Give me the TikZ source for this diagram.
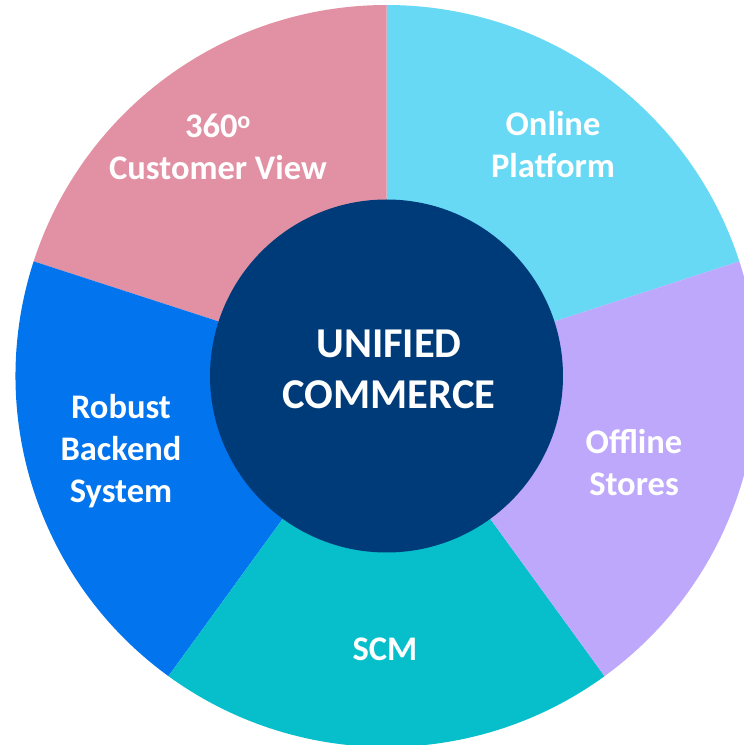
\documentclass[tikz,border=0pt]{standalone}
\usepackage{fontspec}
\setmainfont{Carlito}
\definecolor{cpink}{HTML}{E291A5}
\definecolor{ccyan}{HTML}{67D9F5}
\definecolor{clav}{HTML}{BEA8FC}
\definecolor{cteal}{HTML}{06BFCB}
\definecolor{cblue}{HTML}{0174EE}
\definecolor{cnavy}{HTML}{003B79}
\begin{document}
\begin{tikzpicture}[x=1pt,y=1pt,
  seglabel/.style={text=white,align=center,font=\bfseries\fontsize{34.5}{42}\selectfont,inner sep=0pt},
  hublabel/.style={text=white,align=center,font=\bfseries\fontsize{42.5}{51}\selectfont,inner sep=0pt}]
\useasboundingbox (0,0) rectangle (744,745);
\clip (0,0) rectangle (744,745);
\coordinate (c) at (386.5,369);
\def\R{371}
\fill[ccyan] (c) -- ++(18:\R) arc[start angle=18,end angle=90,radius=\R] -- cycle;
\fill[cpink] (c) -- ++(90:\R) arc[start angle=90,end angle=162,radius=\R] -- cycle;
\fill[cblue] (c) -- ++(162:\R) arc[start angle=162,end angle=234,radius=\R] -- cycle;
\fill[cteal] (c) -- ++(234:\R) arc[start angle=234,end angle=306,radius=\R] -- cycle;
\fill[clav] (c) -- ++(306:\R) arc[start angle=306,end angle=378,radius=\R] -- cycle;
\node[circle,fill=cnavy,minimum size=353pt,inner sep=0pt] (hub) at (c) {};
\node[hublabel] (hubtext) at (389,376) {UNIFIED\\COMMERCE};
\node[seglabel] (cv) at (218,598) {360\textsuperscript{o}\\Customer View};
\node[seglabel] (op) at (553,600) {Online\\Platform};
\node[seglabel] (os) at (634,282) {Offline\\Stores};
\node[seglabel] (rb) at (121,294) {Robust\\Backend\\System};
\node[seglabel] (scm) at (385,96) {SCM};
\end{tikzpicture}
\end{document}
